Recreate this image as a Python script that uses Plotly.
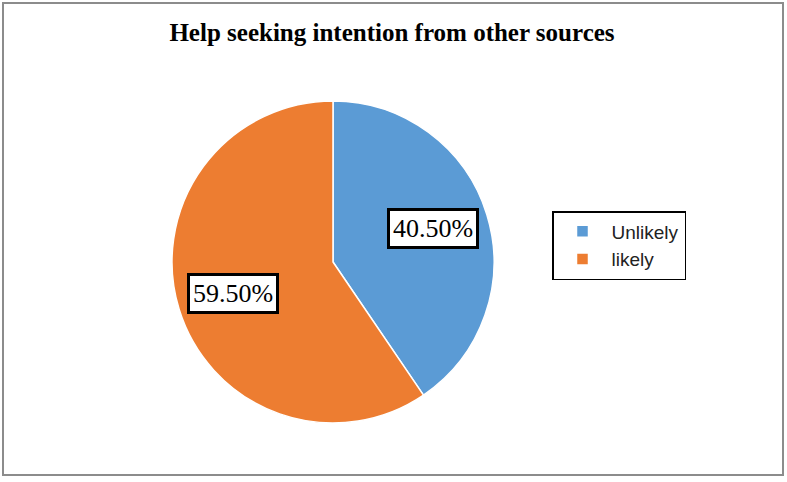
import numpy as np
import plotly.graph_objects as go

# data
categories = ["Unlikely", "likely"]
shares = [40.5, 59.5]
label_text = ["40.50%", "59.50%"]
colors = ["#5B9BD5", "#ED7D31"]

W, H = 787, 482
# pie placement in pixels
cx, cy, R = 333, 262, 161

fig = go.Figure(go.Pie(
    labels=categories,
    values=shares,
    sort=False,
    direction="clockwise",
    rotation=0,
    marker=dict(colors=colors, line=dict(color="white", width=1.5)),
    textinfo="none",
    hoverinfo="label+percent",
    domain=dict(x=[(cx - R) / W, (cx + R) / W], y=[1 - (cy + R) / H, 1 - (cy - R) / H]),
))

# boxed labels placed at mid angle of each slice
total = sum(shares)
start = 0.0
for v, t in zip(shares, label_text):
    mid = (start + v / 2) / total * 2 * np.pi
    start += v
    px = cx + 0.65 * R * np.sin(mid)
    py = cy - 0.68 * R * np.cos(mid) - 1
    fig.add_annotation(
        x=px / W, y=1 - py / H, xref="paper", yref="paper",
        xanchor="center", yanchor="middle",
        text=t, showarrow=False,
        font=dict(family="Liberation Serif", size=26, color="black"),
        bgcolor="white", bordercolor="black", borderwidth=3, borderpad=3,
    )

# outer chart frame
fig.add_shape(type="rect", xref="paper", yref="paper",
              x0=3 / W, x1=783 / W, y0=1 - 475 / H, y1=1 - 3 / H,
              line=dict(color="#8c8c8c", width=2))

fig.update_layout(
    width=W, height=H,
    margin=dict(l=0, r=0, t=0, b=0),
    paper_bgcolor="white",
    title=dict(text="<b>Help seeking intention from other sources</b>",
               x=392 / W, xanchor="center", y=1 - 32 / H, yanchor="middle",
               font=dict(family="Liberation Serif", size=25, color="black")),
    legend=dict(x=552 / W, y=1 - 211 / H, xanchor="left", yanchor="top",
                bordercolor="black", borderwidth=1.5, bgcolor="white",
                itemwidth=48, tracegroupgap=0,
                font=dict(family="Liberation Sans", size=19, color="#222")),
)

# drop the page's default body margin so the figure sits at (0, 0)
fig.write_html("out.html", config={"displayModeBar": False},
               post_script="document.body.style.margin='0';")
